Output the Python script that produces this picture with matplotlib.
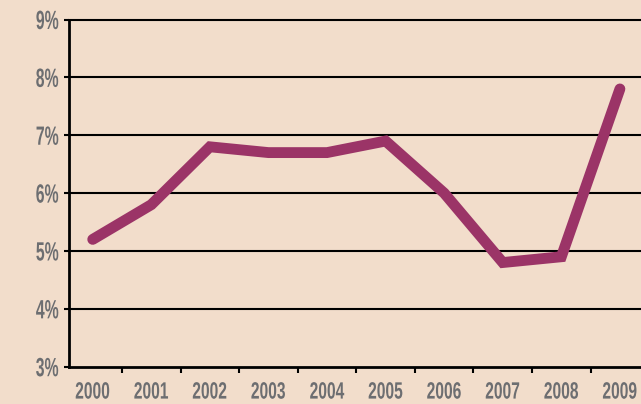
import matplotlib.pyplot as plt
import numpy as np
from matplotlib.patheffects import AbstractPathEffect
from matplotlib.transforms import Affine2D

years = ["2000", "2001", "2002", "2003", "2004", "2005", "2006", "2007", "2008", "2009"]
rates = [5.2, 5.8, 6.8, 6.7, 6.7, 6.9, 6.0, 4.8, 4.9, 7.8]
y_ticks = [3, 4, 5, 6, 7, 8, 9]
y_labels = ["3%", "4%", "5%", "6%", "7%", "8%", "9%"]

plt.rcParams['font.family'] = ['Liberation Sans', 'DejaVu Sans']


# Schrift horizontal zusammendrücken (schmale Schrift nachahmen)
class Squeeze(AbstractPathEffect):
    def __init__(self, sx=0.65, anchor="center"):
        super().__init__()
        self.sx = sx
        self.anchor = anchor

    def draw_path(self, renderer, gc, tpath, affine, rgbFace=None):
        xs = tpath.vertices[:, 0]
        if self.anchor == "right":
            c = xs.max()
        else:
            c = (xs.min() + xs.max()) / 2
        t = Affine2D().translate(-c, 0).scale(self.sx, 1).translate(c, 0) + affine
        renderer.draw_path(gc, tpath, t, rgbFace)


bg = "#f2ddcb"
grey = "#6d6e71"

fig = plt.figure(figsize=(6.41, 4.04), dpi=100, facecolor=bg)
ax = fig.add_axes([69/641, (404-366.7)/404, 1-69/641, (366.7-19.5)/404])
ax.set_facecolor(bg)

x = np.arange(len(years))
for t in y_ticks[1:]:
    ax.axhline(t, color="black", lw=1.5, zorder=1, clip_on=False)
ax.plot(x, rates, color="#9b3467", lw=7.8, solid_capstyle="round",
        solid_joinstyle="miter", zorder=3)

ax.set_xlim(-0.405, 9.36)
ax.set_ylim(3, 9)
ax.set_yticks(y_ticks)
ax.set_yticklabels(y_labels, fontsize=19, color=grey, fontweight="bold")
ax.set_xticks(x)
ax.set_xticklabels(years, fontsize=17, color=grey, fontweight="bold")
ax.set_xticks(np.arange(0.5, 9, 1), minor=True)

ax.tick_params(axis="x", which="major", length=0, pad=10)
ax.tick_params(axis="x", which="minor", length=4, width=1.5, color="black", direction="out")
ax.tick_params(axis="y", length=3.6, width=1.5, color="black", pad=3.6)

for lab in ax.get_xticklabels():
    lab.set_path_effects([Squeeze(0.66)])
for lab in ax.get_yticklabels():
    lab.set_path_effects([Squeeze(0.6, "right")])

for s in ["top", "right"]:
    ax.spines[s].set_visible(False)
ax.spines["left"].set_linewidth(2)
ax.spines["bottom"].set_linewidth(2)

fig.savefig("out.png", dpi=100, facecolor=bg)
